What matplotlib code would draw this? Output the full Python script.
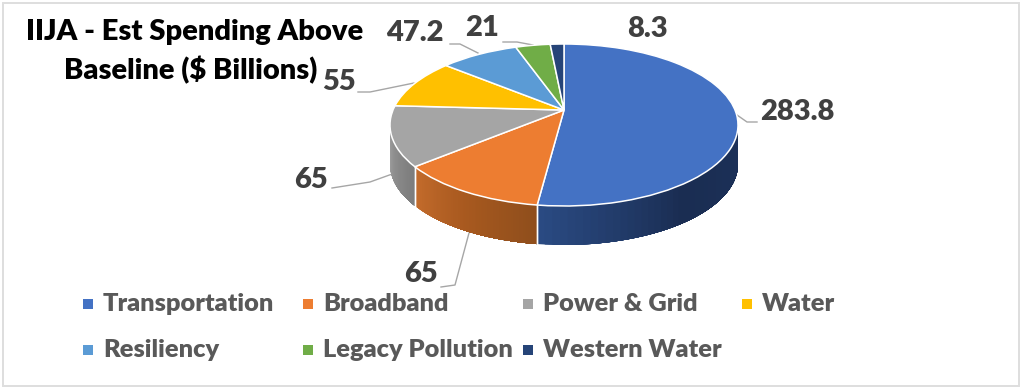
import numpy as np
import matplotlib
matplotlib.use("Agg")
import matplotlib.pyplot as plt
from matplotlib.colors import to_rgb
from matplotlib.patches import Rectangle
from matplotlib.transforms import Transform

categories = ["Transportation", "Broadband", "Power & Grid", "Water",
              "Resiliency", "Legacy Pollution", "Western Water"]
values = [283.8, 65, 65, 55, 47.2, 21, 8.3]
value_labels = ["283.8", "65", "65", "55", "47.2", "21", "8.3"]
colors = ["#4472C4", "#ED7D31", "#A5A5A5", "#FFC000", "#5B9BD5", "#70AD47", "#264478"]

# dark side of the disc, left / middle / right of each slice
wall_shades = [("#2A4A82", "#1A2D52", "#1C3159"),
               ("#C46C2C", "#A8591F", "#8F4E1C"),
               ("#A3A3A3", "#8C8C8C", "#7C7C7C")]

# layout, in pixels of the 1024x390 picture
cx, cy, rx, ry = 564, 125, 174, 81
tilt = 0.185   # how far the pie centre sits above the ellipse centre
depth = 39
label_xy = [(797, 112), (421, 274), (311, 180), (339, 82), (415, 33), (482, 28), (647, 29)]
leaders = [[(737, 115), (747, 122), (757, 122)],
           [(469, 233), (455, 285), (441, 287)],
           [(395, 173), (370, 182), (332, 188)],
           [(414, 83), (370, 92), (358, 92)],
           [(478, 53), (460, 44), (450, 44)],
           [(533, 45), (517, 42), (503, 42)]]
legend_x = [88, 308, 528, 747]
legend_y = [304, 350]

plt.rcParams['font.family'] = ['Lato', 'DejaVu Sans']


def project(u, v):
    # unit circle to the tilted ellipse, centre moves up like in a 3d view
    k = 1 + tilt * v
    x = u * np.sqrt(1 - tilt ** 2) / k
    y = (v + tilt) / k
    return cx + rx * x, cy - ry * y


class PieProjection(Transform):
    input_dims = 2
    output_dims = 2
    is_affine = False

    def transform_non_affine(self, values):
        values = np.asarray(values)
        x, y = project(values[:, 0], values[:, 1])
        return np.column_stack([x, y])


fig = plt.figure(figsize=(10.24, 3.90), dpi=100)
ax = fig.add_axes([0, 0, 1, 1])

wedges, _ = ax.pie(values, colors=colors, startangle=90, counterclock=False,
                   wedgeprops={"edgecolor": "white", "linewidth": 1.1})
ax.set_aspect("auto")
ax.set_xlim(0, 1024)
ax.set_ylim(390, 0)
ax.axis("off")

for w in wedges:
    w.set_transform(PieProjection() + ax.transData)
    w.set_zorder(3)

# side wall of the disc, only the slices that reach the front
for w, shade in zip(wedges, wall_shades):
    th = np.radians(np.linspace(w.theta1, w.theta2, 90))
    xs, ys = project(np.cos(th), np.sin(th))
    keep = ys >= cy
    xs, ys = xs[keep], ys[keep]
    if xs[0] > xs[-1]:
        xs, ys = xs[::-1], ys[::-1]
    rgb = np.array([to_rgb(c) for c in shade])
    # each strip runs to the end of the slice and is painted over the last one,
    # thin strips side by side leave seams
    for i in range(len(xs) - 1):
        t = i / (len(xs) - 2)
        col = [np.interp(t, [0, 0.5, 1], rgb[:, j]) for j in range(3)]
        ax.fill(np.r_[xs[i:], xs[i:][::-1]], np.r_[ys[i:], ys[i:][::-1] + depth],
                color=col, linewidth=0, zorder=1)
    # white seam where two slices meet
    for k in (0, -1):
        if ys[k] > cy + 2:
            ax.plot([xs[k], xs[k]], [ys[k], ys[k] + depth], color="white", lw=1, zorder=2)

for pts in leaders:
    ax.plot([p[0] for p in pts], [p[1] for p in pts], color="#A6A6A6", lw=1, zorder=0.5)

for txt, (x, y) in zip(value_labels, label_xy):
    ax.text(x, y, txt, fontsize=21, fontweight="heavy", color="#404040",
            ha="center", va="center", zorder=5)

ax.text(195, 32, "IIJA - Est Spending Above", fontsize=21, fontweight="heavy",
        color="black", ha="center", va="center", zorder=5)
ax.text(191, 70, "Baseline ($ Billions)", fontsize=21, fontweight="heavy",
        color="black", ha="center", va="center", zorder=5)

# legend, row by row like the original
for i, (name, col) in enumerate(zip(categories, colors)):
    row = 0 if i < 4 else 1
    x = legend_x[i if i < 4 else i - 4]
    y = legend_y[row]
    ax.scatter([x], [y], marker="s", s=58, color=col, linewidths=0, zorder=5)
    ax.text(x + 15, y, name, fontsize=18.3, fontweight="heavy", color="#595959",
            ha="left", va="center", zorder=5)

# thin frame around the picture
ax.add_patch(Rectangle((3, 3), 1016, 383, fill=False, edgecolor="#DEDEDE", lw=1.4, zorder=0))

fig.savefig("out.png", dpi=100)
